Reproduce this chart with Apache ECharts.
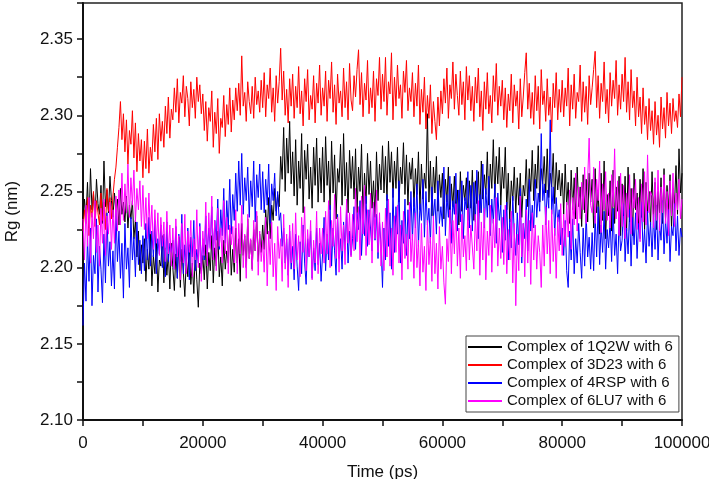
<!DOCTYPE html>
<html lang="en">
<head>
    <meta charset="UTF-8">
    <title>Rg</title>
    <script src="https://cdn.jsdelivr.net/npm/echarts@6/dist/echarts.min.js"></script>
    <style>
        body { margin: 0; background: #fff; }
        #chartmain { width: 709px; height: 479px; }
    </style>
</head>
<body>
<div id="chartmain"></div>
<script type="text/javascript">
    // one frame every 250 ps, 0 .. 100000 ps
    var timeStepPs = 250;
    var xTicks = [0, 20000, 40000, 60000, 80000, 100000];
    var yTicks = [2.10, 2.15, 2.20, 2.25, 2.30, 2.35];

    var seriesNames = ['Complex of 1Q2W with 6', 'Complex of 3D23 with 6', 'Complex of 4RSP with 6', 'Complex of 6LU7 with 6'];

    var rg1Q2W = [
        2.228, 2.245, 2.233, 2.256, 2.226, 2.265, 2.238, 2.249, 2.231, 2.258, 2.242, 2.235, 2.254, 2.229, 2.270, 2.240, 2.251, 2.236, 2.260, 2.244,
        2.233, 2.249, 2.237, 2.245, 2.228, 2.252, 2.235, 2.243, 2.230, 2.247, 2.226, 2.241, 2.232, 2.244, 2.219, 2.231, 2.207, 2.224, 2.198, 2.215,
        2.203, 2.219, 2.191, 2.212, 2.199, 2.223, 2.188, 2.208, 2.196, 2.217, 2.184, 2.205, 2.201, 2.221, 2.190, 2.213, 2.195, 2.210, 2.186, 2.216,
        2.200, 2.185, 2.209, 2.193, 2.220, 2.187, 2.212, 2.197, 2.181, 2.206, 2.194, 2.215, 2.189, 2.203, 2.183, 2.211, 2.192, 2.174, 2.203, 2.196,
        2.208, 2.192, 2.215, 2.186, 2.210, 2.198, 2.221, 2.190, 2.213, 2.201, 2.224, 2.194, 2.207, 2.188, 2.218, 2.199, 2.211, 2.203, 2.226, 2.195,
        2.212, 2.197, 2.226, 2.203, 2.219, 2.191, 2.229, 2.208, 2.221, 2.200, 2.232, 2.206, 2.218, 2.199, 2.225, 2.211, 2.234, 2.204, 2.222, 2.210,
        2.228, 2.212, 2.238, 2.222, 2.246, 2.219, 2.241, 2.231, 2.252, 2.237, 2.248, 2.240, 2.273, 2.258, 2.292, 2.250, 2.285, 2.262, 2.296, 2.255,
        2.276, 2.247, 2.284, 2.241, 2.270, 2.252, 2.288, 2.236, 2.277, 2.258, 2.281, 2.245, 2.266, 2.239, 2.279, 2.254, 2.285, 2.243, 2.272, 2.249,
        2.279, 2.243, 2.286, 2.254, 2.270, 2.238, 2.283, 2.249, 2.274, 2.232, 2.265, 2.256, 2.281, 2.241, 2.288, 2.247, 2.269, 2.236, 2.277, 2.252,
        2.273, 2.245, 2.278, 2.236, 2.266, 2.250, 2.281, 2.232, 2.262, 2.242, 2.275, 2.248, 2.270, 2.239, 2.257, 2.233, 2.276, 2.244, 2.268, 2.251,
        2.280, 2.249, 2.273, 2.244, 2.283, 2.256, 2.276, 2.246, 2.270, 2.252, 2.279, 2.243, 2.266, 2.255, 2.282, 2.248, 2.274, 2.241, 2.269, 2.258,
        2.272, 2.240, 2.265, 2.248, 2.276, 2.238, 2.268, 2.245, 2.262, 2.252, 2.301, 2.243, 2.270, 2.234, 2.266, 2.249, 2.273, 2.237, 2.261, 2.246,
        2.262, 2.232, 2.258, 2.243, 2.266, 2.229, 2.255, 2.240, 2.260, 2.235, 2.251, 2.228, 2.263, 2.237, 2.254, 2.244, 2.259, 2.231, 2.257, 2.239,
        2.264, 2.231, 2.257, 2.242, 2.263, 2.236, 2.270, 2.245, 2.261, 2.248, 2.276, 2.241, 2.268, 2.252, 2.284, 2.246, 2.273, 2.255, 2.279, 2.241,
        2.266, 2.252, 2.279, 2.238, 2.262, 2.230, 2.257, 2.244, 2.266, 2.236, 2.259, 2.241, 2.262, 2.233, 2.254, 2.247, 2.271, 2.240, 2.265, 2.250,
        2.277, 2.244, 2.268, 2.252, 2.280, 2.243, 2.265, 2.255, 2.273, 2.249, 2.278, 2.246, 2.262, 2.253, 2.275, 2.242, 2.269, 2.251, 2.264, 2.247,
        2.262, 2.235, 2.268, 2.241, 2.256, 2.229, 2.264, 2.238, 2.259, 2.232, 2.266, 2.240, 2.253, 2.227, 2.261, 2.236, 2.258, 2.230, 2.262, 2.243,
        2.258, 2.226, 2.265, 2.236, 2.251, 2.222, 2.262, 2.231, 2.270, 2.219, 2.248, 2.234, 2.257, 2.224, 2.264, 2.229, 2.253, 2.237, 2.260, 2.221,
        2.255, 2.234, 2.260, 2.224, 2.266, 2.230, 2.252, 2.221, 2.262, 2.238, 2.249, 2.227, 2.258, 2.233, 2.265, 2.225, 2.256, 2.236, 2.250, 2.228,
        2.263, 2.233, 2.256, 2.225, 2.250, 2.236, 2.259, 2.229, 2.265, 2.232, 2.254, 2.238, 2.261, 2.226, 2.252, 2.241, 2.267, 2.235, 2.278, 2.249,
        2.262
    ];

    var rg3D23 = [
        2.224, 2.238, 2.229, 2.246, 2.221, 2.241, 2.233, 2.250, 2.227, 2.244, 2.236, 2.228, 2.249, 2.231, 2.243, 2.225, 2.252, 2.237, 2.246, 2.232,
        2.247, 2.258, 2.266, 2.279, 2.292, 2.309, 2.284, 2.301, 2.276, 2.297, 2.268, 2.290, 2.281, 2.303, 2.272, 2.295, 2.263, 2.288, 2.270, 2.284,
        2.259, 2.283, 2.265, 2.291, 2.262, 2.279, 2.270, 2.294, 2.276, 2.298, 2.271, 2.301, 2.283, 2.296, 2.279, 2.306, 2.288, 2.312, 2.285, 2.304,
        2.297, 2.318, 2.302, 2.324, 2.295, 2.315, 2.308, 2.326, 2.299, 2.319, 2.311, 2.293, 2.322, 2.305, 2.317, 2.298, 2.325, 2.309, 2.320, 2.301,
        2.314, 2.290, 2.309, 2.283, 2.305, 2.296, 2.316, 2.279, 2.302, 2.288, 2.311, 2.275, 2.298, 2.292, 2.313, 2.286, 2.307, 2.294, 2.318, 2.289,
        2.310, 2.297, 2.318, 2.303, 2.321, 2.300, 2.339, 2.306, 2.315, 2.296, 2.322, 2.309, 2.301, 2.319, 2.298, 2.325, 2.307, 2.316, 2.302, 2.323,
        2.305, 2.328, 2.299, 2.320, 2.311, 2.331, 2.302, 2.318, 2.296, 2.326, 2.308, 2.322, 2.344, 2.310, 2.329, 2.300, 2.317, 2.295, 2.324, 2.306,
        2.327, 2.298, 2.319, 2.305, 2.332, 2.301, 2.316, 2.293, 2.324, 2.309, 2.330, 2.297, 2.313, 2.304, 2.326, 2.295, 2.321, 2.308, 2.333, 2.300,
        2.318, 2.306, 2.329, 2.296, 2.323, 2.311, 2.335, 2.302, 2.320, 2.294, 2.327, 2.308, 2.316, 2.299, 2.331, 2.305, 2.322, 2.297, 2.334, 2.310,
        2.303, 2.326, 2.312, 2.330, 2.343, 2.307, 2.328, 2.299, 2.321, 2.310, 2.336, 2.301, 2.318, 2.305, 2.329, 2.296, 2.324, 2.313, 2.338, 2.304,
        2.327, 2.309, 2.338, 2.300, 2.322, 2.314, 2.341, 2.297, 2.325, 2.306, 2.333, 2.311, 2.320, 2.298, 2.329, 2.315, 2.336, 2.303, 2.318, 2.309,
        2.328, 2.299, 2.321, 2.306, 2.333, 2.294, 2.317, 2.302, 2.325, 2.291, 2.313, 2.298, 2.320, 2.288, 2.309, 2.296, 2.284, 2.312, 2.293, 2.316,
        2.301, 2.324, 2.308, 2.331, 2.298, 2.320, 2.311, 2.335, 2.304, 2.327, 2.313, 2.300, 2.329, 2.307, 2.322, 2.297, 2.332, 2.310, 2.326, 2.303,
        2.319, 2.296, 2.325, 2.308, 2.331, 2.299, 2.316, 2.290, 2.322, 2.304, 2.328, 2.301, 2.313, 2.295, 2.326, 2.309, 2.334, 2.300, 2.319, 2.306,
        2.323, 2.297, 2.318, 2.292, 2.314, 2.303, 2.327, 2.295, 2.320, 2.306, 2.316, 2.291, 2.324, 2.299, 2.312, 2.328, 2.341, 2.304, 2.321, 2.298,
        2.315, 2.294, 2.326, 2.303, 2.319, 2.291, 2.330, 2.307, 2.316, 2.296, 2.324, 2.300, 2.312, 2.289, 2.321, 2.305, 2.328, 2.297, 2.317, 2.302,
        2.323, 2.299, 2.318, 2.306, 2.331, 2.293, 2.320, 2.304, 2.327, 2.298, 2.315, 2.309, 2.333, 2.296, 2.322, 2.302, 2.319, 2.294, 2.326, 2.307,
        2.318, 2.330, 2.342, 2.305, 2.326, 2.298, 2.321, 2.309, 2.335, 2.301, 2.317, 2.295, 2.328, 2.306, 2.323, 2.311, 2.336, 2.300, 2.320, 2.304,
        2.327, 2.309, 2.338, 2.302, 2.322, 2.297, 2.330, 2.305, 2.316, 2.293, 2.325, 2.299, 2.312, 2.288, 2.318, 2.294, 2.306, 2.284, 2.311, 2.290,
        2.303, 2.281, 2.309, 2.287, 2.300, 2.279, 2.312, 2.291, 2.305, 2.285, 2.315, 2.293, 2.308, 2.288, 2.311, 2.296, 2.303, 2.292, 2.314, 2.299,
        2.325
    ];

    var rg4RSP = [
        2.162, 2.203, 2.178, 2.219, 2.191, 2.226, 2.175, 2.208, 2.196, 2.232, 2.184, 2.214, 2.199, 2.177, 2.222, 2.190, 2.236, 2.201, 2.217, 2.188,
        2.211, 2.186, 2.238, 2.204, 2.224, 2.193, 2.216, 2.180, 2.229, 2.199, 2.213, 2.187, 2.233, 2.205, 2.220, 2.194, 2.230, 2.202, 2.218, 2.196,
        2.221, 2.198, 2.229, 2.205, 2.233, 2.201, 2.224, 2.207, 2.231, 2.196, 2.219, 2.209, 2.228, 2.200, 2.222, 2.194, 2.230, 2.204, 2.216, 2.210,
        2.218, 2.199, 2.227, 2.193, 2.222, 2.204, 2.235, 2.196, 2.215, 2.201, 2.226, 2.192, 2.220, 2.207, 2.231, 2.198, 2.212, 2.203, 2.229, 2.200,
        2.219, 2.205, 2.234, 2.209, 2.226, 2.213, 2.240, 2.207, 2.231, 2.218, 2.245, 2.212, 2.238, 2.221, 2.252, 2.216, 2.244, 2.225, 2.258, 2.222,
        2.248, 2.231, 2.262, 2.237, 2.270, 2.241, 2.275, 2.235, 2.259, 2.244, 2.266, 2.233, 2.257, 2.240, 2.270, 2.230, 2.261, 2.246, 2.268, 2.238,
        2.263, 2.236, 2.258, 2.241, 2.268, 2.229, 2.255, 2.244, 2.262, 2.234, 2.250, 2.231, 2.236, 2.214, 2.226, 2.203, 2.219, 2.195, 2.224, 2.199,
        2.214, 2.192, 2.222, 2.201, 2.185, 2.217, 2.196, 2.228, 2.203, 2.189, 2.219, 2.207, 2.224, 2.193, 2.213, 2.198, 2.226, 2.202, 2.216, 2.191,
        2.209, 2.233, 2.198, 2.222, 2.205, 2.241, 2.201, 2.226, 2.211, 2.195, 2.235, 2.206, 2.219, 2.199, 2.230, 2.212, 2.238, 2.203, 2.224, 2.208,
        2.219, 2.240, 2.212, 2.236, 2.225, 2.244, 2.208, 2.233, 2.221, 2.247, 2.214, 2.238, 2.226, 2.211, 2.242, 2.218, 2.235, 2.206, 2.230, 2.215,
        2.187, 2.226, 2.205, 2.248, 2.214, 2.236, 2.199, 2.252, 2.210, 2.240, 2.222, 2.257, 2.203, 2.231, 2.216, 2.245, 2.208, 2.238, 2.219, 2.250,
        2.218, 2.246, 2.226, 2.255, 2.214, 2.242, 2.231, 2.258, 2.220, 2.250, 2.228, 2.239, 2.216, 2.253, 2.233, 2.245, 2.222, 2.257, 2.229, 2.240,
        2.227, 2.266, 2.221, 2.248, 2.233, 2.260, 2.216, 2.244, 2.235, 2.262, 2.224, 2.251, 2.230, 2.257, 2.219, 2.246, 2.238, 2.263, 2.226, 2.254,
        2.224, 2.256, 2.230, 2.264, 2.219, 2.248, 2.236, 2.268, 2.226, 2.252, 2.233, 2.260, 2.221, 2.245, 2.229, 2.255, 2.216, 2.249, 2.231, 2.241,
        2.210, 2.238, 2.218, 2.243, 2.205, 2.232, 2.213, 2.247, 2.222, 2.208, 2.236, 2.215, 2.252, 2.203, 2.229, 2.219, 2.245, 2.211, 2.258, 2.224,
        2.241, 2.226, 2.258, 2.233, 2.249, 2.237, 2.288, 2.244, 2.255, 2.228, 2.251, 2.239, 2.297, 2.235, 2.253, 2.221, 2.246, 2.230, 2.238, 2.215,
        2.226, 2.208, 2.231, 2.198, 2.187, 2.224, 2.205, 2.232, 2.196, 2.219, 2.203, 2.229, 2.210, 2.193, 2.226, 2.201, 2.235, 2.207, 2.220, 2.199,
        2.223, 2.198, 2.234, 2.207, 2.240, 2.202, 2.228, 2.210, 2.237, 2.199, 2.225, 2.213, 2.231, 2.204, 2.239, 2.208, 2.222, 2.196, 2.233, 2.211,
        2.218, 2.242, 2.204, 2.226, 2.209, 2.238, 2.201, 2.233, 2.215, 2.236, 2.206, 2.229, 2.219, 2.243, 2.210, 2.225, 2.203, 2.237, 2.214, 2.230,
        2.207, 2.235, 2.212, 2.241, 2.205, 2.229, 2.218, 2.244, 2.209, 2.232, 2.216, 2.238, 2.204, 2.227, 2.221, 2.242, 2.211, 2.234, 2.208, 2.226,
        2.220
    ];

    var rg6LU7 = [
        2.232, 2.205, 2.241, 2.214, 2.246, 2.203, 2.236, 2.219, 2.244, 2.210, 2.228, 2.201, 2.239, 2.216, 2.245, 2.208, 2.234, 2.222, 2.243, 2.212,
        2.238, 2.216, 2.247, 2.224, 2.251, 2.228, 2.262, 2.231, 2.255, 2.236, 2.268, 2.233, 2.259, 2.241, 2.264, 2.230, 2.252, 2.238, 2.257, 2.227,
        2.254, 2.225, 2.246, 2.219, 2.249, 2.222, 2.241, 2.212, 2.238, 2.216, 2.236, 2.208, 2.233, 2.214, 2.230, 2.204, 2.237, 2.209, 2.228, 2.201,
        2.226, 2.199, 2.232, 2.207, 2.221, 2.192, 2.229, 2.203, 2.235, 2.196, 2.224, 2.210, 2.231, 2.194, 2.219, 2.205, 2.238, 2.200, 2.227, 2.191,
        2.224, 2.208, 2.243, 2.201, 2.236, 2.212, 2.247, 2.205, 2.231, 2.198, 2.239, 2.214, 2.226, 2.203, 2.244, 2.209, 2.233, 2.196, 2.228, 2.215,
        2.227, 2.203, 2.238, 2.196, 2.229, 2.209, 2.241, 2.200, 2.222, 2.193, 2.235, 2.206, 2.219, 2.198, 2.231, 2.211, 2.237, 2.195, 2.224, 2.204,
        2.218, 2.197, 2.233, 2.188, 2.224, 2.202, 2.230, 2.194, 2.216, 2.185, 2.227, 2.206, 2.219, 2.191, 2.235, 2.199, 2.222, 2.187, 2.228, 2.203,
        2.229, 2.199, 2.236, 2.205, 2.221, 2.194, 2.233, 2.210, 2.240, 2.198, 2.225, 2.207, 2.231, 2.192, 2.218, 2.203, 2.237, 2.196, 2.226, 2.209,
        2.226, 2.203, 2.237, 2.209, 2.244, 2.200, 2.231, 2.214, 2.248, 2.206, 2.233, 2.197, 2.240, 2.211, 2.228, 2.202, 2.245, 2.216, 2.236, 2.207,
        2.235, 2.211, 2.252, 2.217, 2.240, 2.205, 2.247, 2.222, 2.254, 2.208, 2.238, 2.215, 2.249, 2.203, 2.243, 2.219, 2.251, 2.210, 2.236, 2.201,
        2.230, 2.198, 2.239, 2.207, 2.245, 2.201, 2.226, 2.195, 2.234, 2.210, 2.241, 2.203, 2.228, 2.192, 2.237, 2.206, 2.222, 2.199, 2.243, 2.204,
        2.222, 2.193, 2.236, 2.200, 2.218, 2.188, 2.229, 2.197, 2.214, 2.185, 2.231, 2.202, 2.220, 2.191, 2.234, 2.196, 2.216, 2.186, 2.227, 2.199,
        2.214, 2.190, 2.176, 2.219, 2.204, 2.238, 2.196, 2.231, 2.209, 2.242, 2.201, 2.226, 2.193, 2.235, 2.207, 2.221, 2.198, 2.239, 2.205, 2.228,
        2.227, 2.199, 2.235, 2.211, 2.244, 2.195, 2.230, 2.205, 2.239, 2.192, 2.224, 2.208, 2.241, 2.197, 2.232, 2.213, 2.246, 2.201, 2.226, 2.206,
        2.233, 2.202, 2.241, 2.196, 2.225, 2.205, 2.237, 2.190, 2.229, 2.175, 2.222, 2.198, 2.247, 2.207, 2.229, 2.194, 2.238, 2.203, 2.231, 2.189,
        2.236, 2.205, 2.228, 2.199, 2.221, 2.210, 2.187, 2.228, 2.201, 2.240, 2.209, 2.231, 2.196, 2.238, 2.204, 2.226, 2.193, 2.233, 2.211, 2.242,
        2.208, 2.235, 2.214, 2.243, 2.220, 2.251, 2.212, 2.246, 2.228, 2.262, 2.224, 2.253, 2.232, 2.256, 2.238, 2.266, 2.229, 2.258, 2.285, 2.241,
        2.236, 2.266, 2.229, 2.258, 2.244, 2.270, 2.223, 2.255, 2.238, 2.263, 2.231, 2.249, 2.226, 2.261, 2.240, 2.278, 2.232, 2.257, 2.221, 2.262,
        2.227, 2.254, 2.219, 2.249, 2.233, 2.261, 2.222, 2.252, 2.239, 2.258, 2.225, 2.246, 2.217, 2.255, 2.230, 2.263, 2.228, 2.274, 2.236, 2.250,
        2.247, 2.226, 2.259, 2.231, 2.264, 2.224, 2.253, 2.236, 2.261, 2.229, 2.250, 2.221, 2.257, 2.234, 2.262, 2.227, 2.249, 2.238, 2.258, 2.232,
        2.245
    ];

    var seriesColors = ['#000000', '#ff0000', '#0000ff', '#ff00ff'];
    var seriesData = [rg1Q2W, rg3D23, rg4RSP, rg6LU7];

    function toPairs(values) {
        var out = [];
        for (var i = 0; i < values.length; i++) {
            out.push([i * timeStepPs, values[i]]);
        }
        return out;
    }

    var fontName = 'Liberation Sans, Arial, sans-serif';

    var series = seriesNames.map(function (name, k) {
        return {
            name: name,
            type: 'line',
            data: toPairs(seriesData[k]),
            showSymbol: false,
            symbol: 'none',
            lineStyle: { color: seriesColors[k], width: 1 },
            itemStyle: { color: seriesColors[k] },
            z: 2 + k
        };
    });

    var myChart = echarts.init(document.getElementById('chartmain'));
    myChart.setOption({
        animation: false,
        backgroundColor: '#ffffff',
        grid: {
            left: 83, right: 27, top: 3, bottom: 59,
            containLabel: false,
            outerBoundsMode: 'none',
            show: true,
            borderColor: '#222',
            borderWidth: 1.5
        },
        legend: {
            data: seriesNames,
            orient: 'vertical',
            left: 466,
            top: 336,
            padding: [3, 6, 3, 2],
            itemWidth: 34,
            itemHeight: 2,
            itemGap: 2,
            icon: 'rect',
            selectedMode: false,
            borderColor: '#444',
            borderWidth: 1,
            backgroundColor: '#fff',
            textStyle: { fontFamily: fontName, fontSize: 15, color: '#111', lineHeight: 16 }
        },
        xAxis: {
            type: 'value',
            min: xTicks[0],
            max: xTicks[xTicks.length - 1],
            interval: 20000,
            name: 'Time (ps)',
            nameLocation: 'middle',
            nameGap: 44,
            nameTextStyle: { fontFamily: fontName, fontSize: 17, color: '#111' },
            axisLine: { lineStyle: { color: '#111', width: 2 } },
            axisTick: { length: 6, lineStyle: { color: '#111', width: 1.5 } },
            minorTick: { show: true, splitNumber: 2, length: 6, lineStyle: { color: '#111', width: 1.5 } },
            axisLabel: {
                fontFamily: fontName, fontSize: 17, color: '#111', margin: 15,
                formatter: function (v) { return String(v); }
            },
            splitLine: { show: false }
        },
        yAxis: {
            type: 'value',
            min: yTicks[0],
            max: 2.3737,
            interval: 0.05,
            name: 'Rg (nm)',
            nameLocation: 'middle',
            nameGap: 62,
            nameTextStyle: { fontFamily: fontName, fontSize: 17, color: '#111' },
            axisLine: { show: true, lineStyle: { color: '#111', width: 2 } },
            axisTick: { show: true, length: 6, lineStyle: { color: '#111', width: 1.5 } },
            minorTick: { show: true, splitNumber: 2, length: 6, lineStyle: { color: '#111', width: 1.5 } },
            axisLabel: {
                fontFamily: fontName, fontSize: 17, color: '#111', margin: 10,
                showMaxLabel: false,
                formatter: function (v) { return v.toFixed(2); }
            },
            splitLine: { show: false }
        },
        series: series
    });
</script>
</body>
</html>
